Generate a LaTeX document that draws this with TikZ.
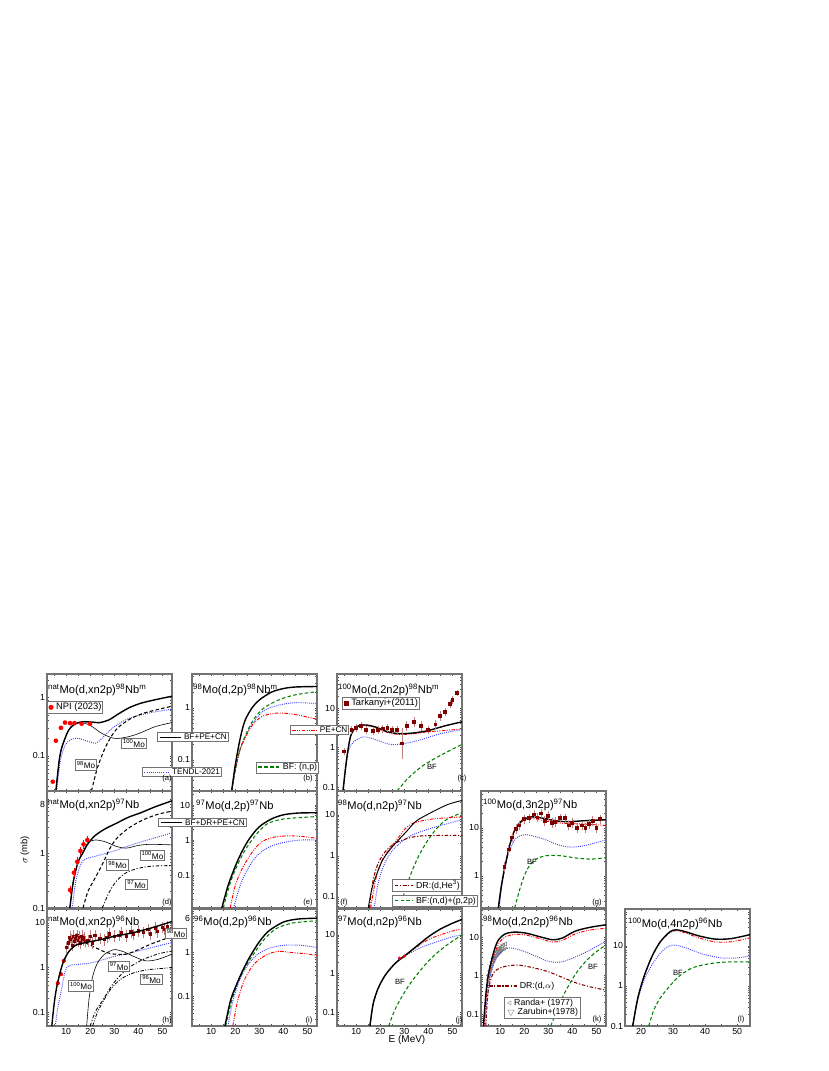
\documentclass[tikz,border=0pt]{standalone}
\usepackage{fontspec}
\setmainfont{Liberation Sans}
\usetikzlibrary{arrows.meta,positioning}
\newcommand{\up}[1]{\textsuperscript{#1}}
\newcommand{\fs}[1]{\fontsize{#1}{#1}\selectfont}
\tikzset{
  frame/.style={draw=black!55,line width=0.9pt},
  tickc/.style={black!70,line width=0.4pt},
  tot/.style={black,line width=1.2pt},
  pecn/.style={red,line width=0.8pt,dash pattern=on 3pt off 1.2pt on 0.8pt off 1.2pt on 0.8pt off 1.2pt},
  tendl/.style={blue!75!white,line width=0.8pt,dash pattern=on 0.8pt off 1pt},
  bfc/.style={green!50!black,line width=0.9pt,dash pattern=on 3pt off 2pt},
  drc/.style={red!50!black,line width=0.9pt,dash pattern=on 3pt off 1.5pt on 1pt off 1.5pt},
  isoline/.style={black,line width=0.5pt},
  isodash/.style={black,line width=0.9pt,dash pattern=on 3pt off 2pt},
  isodd/.style={black,line width=0.7pt,dash pattern=on 3pt off 1.5pt on 1pt off 1.5pt},
  isoddd/.style={black,line width=0.7pt,dash pattern=on 3pt off 1.2pt on 0.8pt off 1.2pt on 0.8pt off 1.2pt},
  lbox/.style={draw=black!55,line width=0.8pt,fill=white,inner sep=1.2pt,font=\fs{7}},
  ttl/.style={anchor=west,inner sep=0pt,font=\fs{9.5}},
  ylab/.style={anchor=east,inner sep=1.5pt,font=\fs{7.5}},
  xlab/.style={anchor=north,inner sep=2pt,font=\fs{7.5}},
  tag/.style={inner sep=0pt,font=\fs{6.5}},
  bflab/.style={inner sep=0pt,font=\fs{6.5}},
  npi/.style={fill=red},
  tark/.style={fill=red!50!black},
  errb/.style={red!50!black!50,line width=0.5pt},
  panel/.code n args={6}{%
    \pgfmathsetmacro\pxu{3.75/(#4-#3)}%
    \pgfmathsetmacro\pyu{3.51/(#6-#5)}%
    \pgfkeysalso{shift={(#1,#2)},x=\pxu cm,y=\pyu cm,shift={(-#3,-#5)}}}
}
% frame and ticks of one panel
\newcommand{\axes}[4]{%
  \begin{scope}
    \clip (#1,#3) rectangle (#2,#4);
    \foreach \t in {5,10,...,55}{
      \draw[tickc] (\t,#3) -- ++(0,2pt); \draw[tickc] (\t,#4) -- ++(0,-2pt);}
    \foreach \dd in {-2,-1,0,1}{\foreach \mm in {1,...,9}{
      \pgfmathsetmacro\yy{\dd+log10(\mm)}
      \draw[tickc] (#1,\yy) -- ++(2pt,0); \draw[tickc] (#2,\yy) -- ++(-2pt,0);}}
  \end{scope}
  \draw[frame] (#1,#3) rectangle (#2,#4);}
\begin{document}
\begin{tikzpicture}[x=0.03cm,y=-0.03cm]
\useasboundingbox[fill=white] (0,0) rectangle (828,1071);

% (a)
\begin{scope}[panel={47}{791}{2}{54}{-1.6}{0.4}]
\axes{2}{54}{-1.6}{0.4}
\node[ylab] (a-y0) at (2,0) {1};
\node[ylab] (a-y1) at (2,-1) {0.1};
\begin{scope}
\clip (2,-1.6) rectangle (54,0.4);
\draw[tendl] plot[smooth] coordinates {(6,-1.6) (7.5,-1.1) (9.5,-0.82) (12,-0.72) (15,-0.7) (19,-0.75) (22.5,-0.78) (26,-0.65) (30,-0.5) (36,-0.36) (44,-0.27) (54,-0.2)};
\draw[isodash] plot[smooth] coordinates {(20.5,-1.6) (23,-1.2) (26,-0.88) (29,-0.65) (32,-0.5) (37,-0.36) (43,-0.26) (54,-0.15)};
\draw[isoline] plot[smooth] coordinates {(5.7,-1.6) (7,-1.1) (8,-0.88) (9.5,-0.7) (11,-0.56) (13,-0.47) (16,-0.43) (20,-0.48) (25,-0.62) (30,-0.7) (35,-0.68) (40,-0.62) (47,-0.5) (54,-0.43)};
\draw[tot] plot[smooth] coordinates {(5.7,-1.6) (7,-1.1) (8,-0.88) (9.5,-0.7) (11,-0.56) (13,-0.47) (16,-0.42) (20,-0.42) (24,-0.43) (28,-0.38) (31,-0.3) (36,-0.18) (41,-0.1) (47,-0.04) (54,0.02)};
\foreach \e/\v in {4.4/-1.44,5.7/-0.74,7.8/-0.52,9.5/-0.43,11.6/-0.44,13.4/-0.44,16.4/-0.45,19.9/-0.45}
  \fill[npi] (\e,\v) circle (2pt);
\end{scope}
\end{scope}

% (b)
\begin{scope}[panel={192}{791}{2}{54}{-1.6}{0.65}]
\axes{2}{54}{-1.6}{0.65}
\node[ylab] (b-y0) at (2,0) {1};
\node[ylab] (b-y1) at (2,-1) {0.1};
\begin{scope}
\clip (2,-1.6) rectangle (54,0.65);
\draw[tendl] plot[smooth] coordinates {(18.5,-1.6) (20,-1.2) (22,-0.8) (25,-0.48) (28,-0.25) (32,-0.05) (38,0.05) (45,0.1) (54,0.08)};
\draw[bfc] plot[smooth] coordinates {(18.5,-1.6) (20,-1.2) (22,-0.8) (25,-0.45) (28,-0.2) (32,0.0) (38,0.15) (45,0.25) (54,0.31)};
\draw[pecn] plot[smooth] coordinates {(18.5,-1.6) (20,-1.2) (22,-0.8) (25,-0.5) (28,-0.28) (32,-0.15) (38,-0.1) (45,-0.13) (54,-0.22)};
\draw[tot] plot[smooth] coordinates {(18.5,-1.6) (20,-1.1) (22,-0.6) (24,-0.25) (27,0.0) (30,0.15) (35,0.3) (40,0.37) (45,0.4) (54,0.41)};
\end{scope}
\end{scope}

% (c)
\begin{scope}[panel={337}{791}{2}{54}{-1.1}{1.86}]
\axes{2}{54}{-1.1}{1.86}
\node[ylab] (c-y0) at (2,1) {10};
\node[ylab] (c-y1) at (2,0) {1};
\node[ylab] (c-y2) at (2,-1) {0.1};
\begin{scope}
\clip (2,-1.1) rectangle (54,1.86);
\draw[tendl] plot[smooth] coordinates {(4.5,-1.1) (5.5,-0.5) (7,-0.05) (9,0.15) (13,0.27) (17,0.22) (24,0.08) (30,0.1) (37,0.2) (45,0.35) (54,0.45)};
\draw[bfc] plot[smooth] coordinates {(27,-1.1) (32,-0.75) (38,-0.45) (45,-0.2) (54,0.08)};
\draw[pecn] plot[smooth] coordinates {(4.5,-1.1) (6,-0.3) (7.5,0.25) (9,0.45) (11,0.55) (14,0.56) (18,0.5) (23,0.38) (28,0.33) (34,0.35) (40,0.4) (47,0.43) (54,0.47)};
\draw[tot] plot[smooth] coordinates {(4.5,-1.1) (6,-0.3) (7.5,0.25) (9,0.45) (11,0.55) (14,0.57) (18,0.52) (23,0.4) (28,0.35) (34,0.37) (40,0.43) (47,0.55) (54,0.65)};
\foreach \e/\v/\s in {5/-0.1/0.1,8/0.45/0.1,10/0.5/0.1,12/0.55/0.1,14/0.45/0.1,17/0.42/0.1,19/0.45/0.1,21/0.48/0.1,23/0.5/0.1,25/0.45/0.1,27/0.45/0.1,29/0.1/0.4,31/0.55/0.12,34/0.65/0.12,37/0.55/0.12,40/0.45/0.1,43/0.58/0.12,45/0.8/0.12,47/0.9/0.1,49/1.1/0.1,50/1.2/0.1,52/1.38/0.08}{
  \draw[errb] (\e,{\v-\s}) -- (\e,{\v+\s});
  \fill[tark] (\e,\v) ++(-1.6pt,-1.6pt) rectangle ++(3.2pt,3.2pt);}
\end{scope}
\end{scope}

% (d)
\begin{scope}[panel={47}{908}{2}{54}{-1}{1.15}]
\axes{2}{54}{-1}{1.15}
\node[ylab] (d-y8) at (2,0.903) {8};
\node[ylab] (d-y0) at (2,0) {1};
\node[ylab] (d-y1) at (2,-1) {0.1};
\begin{scope}
\clip (2,-1) rectangle (54,1.15);
\draw[tendl] plot[smooth] coordinates {(12.5,-1) (14,-0.5) (16,-0.2) (18,-0.1) (22,-0.05) (30,0.05) (40,0.2) (54,0.38)};
\draw[isodd] plot[smooth] coordinates {(25,-1) (28,-0.7) (31,-0.5) (35,-0.35) (40,-0.27) (46,-0.23) (54,-0.22)};
\draw[isodash] plot[smooth] coordinates {(17,-1) (19,-0.7) (22,-0.45) (25,-0.2) (28,0.08) (31,0.28) (36,0.47) (42,0.62) (48,0.72) (54,0.78)};
\draw[isoline] plot[smooth] coordinates {(11.5,-1) (13,-0.5) (15,-0.15) (17,0.02) (19,0.2) (22,0.25) (26,0.22) (31,0.13) (35,0.1) (40,0.15) (45,0.17) (54,0.16)};
\draw[tot] plot[smooth] coordinates {(11.5,-1) (13,-0.5) (15,-0.15) (17,0.02) (19,0.18) (22,0.33) (26,0.45) (31,0.56) (36,0.67) (41,0.75) (47,0.86) (54,0.97)};
\foreach \e/\v in {11.6/-0.67,13.2/-0.35,14.6/-0.15,15.9/0.05,17.2/0.17,18.8/0.25}{
  \draw[red,line width=0.5pt] (\e,{\v-0.08}) -- (\e,{\v+0.08});
  \fill[npi] (\e,\v) circle (2pt);}
\end{scope}
\end{scope}

% (e)
\begin{scope}[panel={192}{908}{2}{54}{-1.94}{1.4}]
\axes{2}{54}{-1.94}{1.4}
\node[ylab] (e-y2) at (2,1) {10};
\node[ylab] (e-y0) at (2,0) {1};
\node[ylab] (e-y1) at (2,-1) {0.1};
\begin{scope}
\clip (2,-1.94) rectangle (54,1.4);
\draw[tendl] plot[smooth] coordinates {(19.3,-1.94) (22,-1.3) (25,-0.85) (29,-0.45) (34,-0.2) (40,-0.07) (47,0.0) (54,0.0)};
\draw[pecn] plot[smooth] coordinates {(17.9,-1.94) (20,-1.3) (23,-0.8) (27,-0.35) (31,-0.05) (36,0.08) (42,0.12) (48,0.1) (54,0.05)};
\draw[bfc] plot[smooth] coordinates {(15,-1.94) (18,-1.2) (21,-0.7) (24,-0.3) (28,0.1) (33,0.45) (40,0.6) (54,0.67)};
\draw[tot] plot[smooth] coordinates {(14.4,-1.94) (17,-1.3) (20,-0.75) (23,-0.3) (26,0.05) (30,0.38) (35,0.6) (40,0.72) (46,0.77) (54,0.78)};
\end{scope}
\end{scope}

% (f)
\begin{scope}[panel={337}{908}{2}{54}{-1.27}{1.58}]
\axes{2}{54}{-1.27}{1.58}
\node[ylab] (f-y2) at (2,1) {10};
\node[ylab] (f-y0) at (2,0) {1};
\node[ylab] (f-y1) at (2,-1) {0.1};
\begin{scope}
\clip (2,-1.27) rectangle (54,1.58);
\draw[tendl] plot[smooth] coordinates {(17.5,-1.27) (19,-0.7) (21,-0.3) (24,0.05) (28,0.3) (33,0.5) (40,0.65) (47,0.77) (54,0.88)};
\draw[bfc] plot[smooth] coordinates {(28,-1.27) (30,-0.9) (33,-0.4) (36,0.0) (40,0.4) (44,0.7) (48,0.9) (54,1.05)};
\draw[drc] plot[smooth] coordinates {(15.5,-1.27) (17,-0.6) (19,-0.2) (22,0.1) (26,0.3) (31,0.42) (36,0.48) (45,0.5) (54,0.5)};
\draw[pecn] plot[smooth] coordinates {(16,-1.27) (18,-0.6) (20,-0.2) (23,0.1) (27,0.4) (31,0.7) (35,0.82) (42,0.9) (54,0.95)};
\draw[black,line width=0.8pt] plot[smooth] coordinates {(15,-1.27) (16.5,-0.8) (18.5,-0.45) (21,-0.1) (24,0.15) (27,0.35) (31,0.6) (35,0.85) (41,1.05) (48,1.25) (54,1.35)};
\end{scope}
\end{scope}

% (g)
\begin{scope}[panel={481}{908}{2}{54}{-0.67}{1.77}]
\axes{2}{54}{-0.67}{1.77}
\node[ylab] (g-y2) at (2,1) {10};
\node[ylab] (g-y0) at (2,0) {1};
\begin{scope}
\clip (2,-0.67) rectangle (54,1.77);
\draw[tendl] plot[smooth] coordinates {(9.5,-0.67) (11,-0.1) (13,0.4) (16,0.75) (19,0.85) (22,0.85) (28,0.77) (34,0.65) (39,0.6) (45,0.63) (54,0.75)};
\draw[bfc] plot[smooth] coordinates {(16,-0.67) (18,-0.3) (20,0.0) (22,0.2) (25,0.35) (29,0.42) (35,0.42) (42,0.37) (48,0.35) (54,0.38)};
\draw[pecn] plot[smooth] coordinates {(9.2,-0.67) (10.5,-0.2) (12,0.2) (14,0.65) (16,0.95) (19,1.13) (23,1.2) (28,1.15) (35,1.1) (45,1.08) (54,1.05)};
\draw[tot] plot[smooth] coordinates {(9.2,-0.67) (10.5,-0.2) (12,0.2) (14,0.65) (16,0.95) (19,1.15) (23,1.23) (28,1.2) (33,1.15) (38,1.13) (45,1.15) (54,1.17)};
\foreach \e/\v in {11.8/0.18,13.5/0.55,15/0.8,16.5/0.98,18/1.05,20/1.18,22/1.2,24/1.28,25.5/1.22,27/1.3,28.5/1.15,30/1.25,31.5/1.1,33/1.12,35/1.2,37/1.2,38.5/1.05,40/1.1,42/1.0,44/1.05,45.5/1.0,47/1.08,48.5/1.15,50/1.0,51.5/1.18}{
  \draw[errb] (\e,{\v-0.1}) -- (\e,{\v+0.1});
  \fill[tark] (\e,\v) ++(-1.6pt,-1.6pt) rectangle ++(3.2pt,3.2pt);}
\end{scope}
\end{scope}

% (h)
\begin{scope}[panel={47}{1026}{2}{54}{-1.31}{1.31}]
\axes{2}{54}{-1.31}{1.31}
\node[ylab] (h-y2) at (2,1) {10};
\node[ylab] (h-y0) at (2,0) {1};
\node[ylab] (h-y1) at (2,-1) {0.1};
\foreach \t in {10,20,...,50} \node[xlab] (h-x\t) at (\t,-1.31) {\t};
\begin{scope}
\clip (2,-1.31) rectangle (54,1.31);
\draw[tendl] plot[smooth] coordinates {(5.4,-1.31) (6.5,-0.9) (8,-0.5) (9.5,-0.1) (11,0.04) (15,0.07) (20,0.1) (25,0.17) (30,0.25) (37,0.33) (45,0.44) (54,0.56)};
\draw[isoddd] plot[smooth] coordinates {(21,-1.31) (23,-1.0) (26,-0.7) (29,-0.45) (33,-0.25) (38,-0.12) (44,-0.05) (50,-0.02) (54,0.0)};
\draw[isodd] plot[smooth] coordinates {(20,-1.31) (22,-1.0) (25,-0.75) (29,-0.4) (33,-0.15) (37,0.03) (42,0.18) (48,0.3) (54,0.37)};
\draw[isoline] plot[smooth] coordinates {(18.5,-1.31) (19.5,-0.7) (21,-0.2) (23,0.1) (26,0.3) (30,0.4) (34,0.35) (38,0.25) (43,0.15) (48,0.18) (54,0.3)};
\draw[isodash] plot[smooth] coordinates {(18,0.55) (22,0.45) (26,0.35) (30,0.3) (35,0.3) (40,0.4) (45,0.52) (50,0.62) (54,0.7)};
\foreach \e/\v in {10/0.45,11/0.55,11.5/0.68,12/0.62,12.5/0.5,13/0.7,13.5/0.58,14/0.65,14.5/0.72,15/0.6,15.5/0.68,16/0.55,16.5/0.7,17/0.62,17.5/0.66,18/0.58,19/0.6,20/0.7,21/0.55,22/0.72,24/0.65,26/0.62,27/0.68,28/0.75,30/0.7,32/0.72,33/0.78,35/0.7,37/0.8,38/0.74,40/0.82,42/0.78,44/0.85,45/0.75,47/0.88,48/0.8,50/0.9,51/0.85,52/0.92}{
  \draw[errb] (\e,{\v-0.13}) -- (\e,{\v+0.13});
  \fill[tark] (\e,\v) ++(-1.4pt,-1.4pt) rectangle ++(2.8pt,2.8pt);}
\foreach \e/\v in {6.5/-0.35,7.8/-0.15,9/0.15}
  \fill[npi] (\e,\v) circle (1.8pt);
\draw[tot] plot[smooth] coordinates {(4,-1.31) (5,-0.8) (6,-0.45) (7.5,-0.1) (9,0.15) (11,0.35) (14,0.5) (18,0.56) (24,0.62) (30,0.7) (37,0.77) (45,0.88) (54,1.03)};
\end{scope}
\end{scope}

% (i)
\begin{scope}[panel={192}{1026}{2}{54}{-1.68}{1.0}]
\axes{2}{54}{-1.68}{1.0}
\node[ylab] (i-y6) at (2,0.778) {6};
\node[ylab] (i-y0) at (2,0) {1};
\node[ylab] (i-y1) at (2,-1) {0.1};
\foreach \t in {10,20,...,50} \node[xlab] (i-x\t) at (\t,-1.68) {\t};
\begin{scope}
\clip (2,-1.68) rectangle (54,1.0);
\draw[tendl] plot[smooth] coordinates {(17,-1.68) (19,-1.1) (22,-0.6) (25,-0.3) (29,-0.05) (34,0.1) (40,0.17) (47,0.17) (54,0.12)};
\draw[pecn] plot[smooth] coordinates {(19,-1.68) (21,-1.1) (24,-0.6) (28,-0.25) (33,-0.05) (38,0.03) (44,0.0) (50,-0.03) (54,-0.07)};
\draw[bfc] plot[smooth] coordinates {(16,-1.68) (18.5,-1.1) (21,-0.7) (24,-0.35) (28,0.0) (32,0.3) (37,0.55) (44,0.68) (54,0.73)};
\draw[tot] plot[smooth] coordinates {(15.7,-1.68) (18,-1.1) (20,-0.8) (23,-0.42) (26,-0.1) (30,0.25) (34,0.5) (40,0.7) (46,0.77) (54,0.79)};
\end{scope}
\end{scope}

% (j)
\begin{scope}[panel={337}{1026}{2}{54}{-1.36}{1.67}]
\axes{2}{54}{-1.36}{1.67}
\node[ylab] (j-y2) at (2,1) {10};
\node[ylab] (j-y0) at (2,0) {1};
\node[ylab] (j-y1) at (2,-1) {0.1};
\foreach \t in {10,20,...,50} \node[xlab] (j-x\t) at (\t,-1.36) {\t};
\begin{scope}
\clip (2,-1.36) rectangle (54,1.67);
\draw[tendl] plot[smooth] coordinates {(15.7,-1.36) (17,-0.8) (19,-0.4) (22,-0.05) (26,0.25) (28,0.38) (33,0.55) (38,0.7) (45,0.85) (50,0.95) (54,1.0)};
\draw[bfc] plot[smooth] coordinates {(23.5,-1.36) (26,-0.95) (29,-0.6) (32,-0.3) (35,-0.05) (39,0.25) (43,0.5) (48,0.75) (54,1.0)};
\draw[pecn] plot[smooth] coordinates {(15.7,-1.36) (17,-0.8) (19,-0.4) (22,-0.05) (26,0.25) (30,0.45) (35,0.68) (40,0.88) (45,1.0) (50,1.1) (54,1.15)};
\draw[tot] plot[smooth] coordinates {(15.7,-1.36) (17,-0.8) (19,-0.4) (22,-0.05) (26,0.25) (30,0.45) (35,0.7) (40,0.95) (45,1.15) (50,1.3) (54,1.4)};
\foreach \e/\v in {28/0.4,30/0.45} \fill[npi] (\e,\v) circle (1.5pt);
\end{scope}
\end{scope}

% (k)
\begin{scope}[panel={481}{1026}{2}{54}{-1.31}{1.73}]
\axes{2}{54}{-1.31}{1.73}
\node[ylab] (k-y2) at (2,1) {10};
\node[ylab] (k-y0) at (2,0) {1};
\node[ylab] (k-y1) at (2,-1) {0.1};
\foreach \t in {10,20,...,50} \node[xlab] (k-x\t) at (\t,-1.31) {\t};
\begin{scope}
\clip (2,-1.31) rectangle (54,1.73);
\foreach \e/\v in {5/0.0,5.5/0.12,6/0.25,6.5/0.35,7/0.45,7.5/0.5,8/0.58,8.5/0.62,9/0.66,9.5/0.7,10/0.73,10.5/0.76,11/0.8,12/0.82}{
  \draw[black!55,line width=0.4pt] (\e,\v) ++(-1.6pt,0) -- ++(3pt,1.6pt) -- ++(0,-3.2pt) -- cycle;
  \draw[black!55,line width=0.4pt] (\e,{\v-0.12}) ++(-1.6pt,1.2pt) -- ++(3.2pt,0) -- ++(-1.6pt,-2.8pt) -- cycle;}
\draw[tendl] plot[smooth] coordinates {(3.5,-1.31) (4.5,-0.6) (6,0.05) (8,0.45) (11,0.65) (14,0.72) (19,0.65) (25,0.5) (30,0.37) (35,0.35) (40,0.45) (47,0.65) (54,0.9)};
\draw[bfc] plot[smooth] coordinates {(31,-1.31) (33,-1.0) (36,-0.55) (39,-0.2) (42,0.1) (46,0.4) (50,0.62) (54,0.8)};
\draw[drc] plot[smooth] coordinates {(4,-1.31) (5,-0.4) (7,0.05) (10,0.2) (14,0.26) (18,0.27) (24,0.2) (30,0.1) (36,-0.05) (42,-0.2) (48,-0.3) (54,-0.38)};
\draw[pecn] plot[smooth] coordinates {(3.3,-1.31) (4.3,-0.5) (5.3,0.0) (7.3,0.5) (9.5,0.85) (12,1.0) (16,1.07) (21,1.05) (27,0.95) (32,0.87) (36,0.92) (41,1.08) (47,1.18) (54,1.23)};
\draw[tot] plot[smooth] coordinates {(3,-1.31) (4,-0.5) (5,0.0) (7,0.55) (9,0.9) (12,1.08) (16,1.13) (21,1.1) (27,1.0) (32,0.93) (36,0.98) (41,1.15) (47,1.25) (54,1.32)};
\end{scope}
\end{scope}

% (l)
\begin{scope}[panel={625}{1026}{15}{54}{-1}{1.92}]
\axes{15}{54}{-1}{1.92}
\node[ylab] (l-y2) at (15,1) {10};
\node[ylab] (l-y0) at (15,0) {1};
\node[ylab] (l-y1) at (15,-1) {0.1};
\foreach \t in {20,30,...,50} \node[xlab] (l-x\t) at (\t,-1) {\t};
\begin{scope}
\clip (15,-1) rectangle (54,1.92);
\draw[tendl] plot[smooth] coordinates {(17.4,-1) (19,-0.35) (21,0.15) (24,0.6) (27,0.9) (30,1.02) (34,0.95) (39,0.8) (45,0.7) (50,0.7) (54,0.75)};
\draw[bfc] plot[smooth] coordinates {(22.4,-1) (24,-0.6) (26,-0.3) (29,0.0) (32,0.25) (36,0.45) (41,0.55) (47,0.6) (54,0.6)};
\draw[pecn] plot[smooth] coordinates {(17.4,-1) (19,-0.3) (21,0.25) (23.5,0.75) (26,1.1) (29,1.33) (31,1.38) (34,1.32) (38,1.2) (43,1.1) (48,1.1) (54,1.2)};
\draw[tot] plot[smooth] coordinates {(17.4,-1) (19,-0.3) (21,0.25) (23.5,0.75) (26,1.1) (29,1.35) (31,1.4) (34,1.35) (38,1.25) (43,1.17) (48,1.18) (54,1.28)};
\end{scope}
\end{scope}

% titles
\node[ttl] (t-a) at (48,690) {\up{nat}Mo(d,xn2p)\up{98}Nb\up{m}};
\node[ttl] (t-b) at (193,690) {\up{98}Mo(d,2p)\up{98}Nb\up{m}};
\node[ttl] (t-c) at (338,690) {\up{100}Mo(d,2n2p)\up{98}Nb\up{m}};
\node[ttl] (t-d) at (48,805) {\up{nat}Mo(d,xn2p)\up{97}Nb};
\node[ttl] (t-e) at (196,806) {\up{97}Mo(d,2p)\up{97}Nb};
\node[ttl] (t-f) at (338,806) {\up{98}Mo(d,n2p)\up{97}Nb};
\node[ttl] (t-g) at (483,805) {\up{100}Mo(d,3n2p)\up{97}Nb};
\node[ttl] (t-h) at (48,922) {\up{nat}Mo(d,xn2p)\up{96}Nb};
\node[ttl] (t-i) at (194,922) {\up{96}Mo(d,2p)\up{96}Nb};
\node[ttl] (t-j) at (338,922) {\up{97}Mo(d,n2p)\up{96}Nb};
\node[ttl] (t-k) at (483,922) {\up{98}Mo(d,2n2p)\up{96}Nb};
\node[ttl] (t-l) at (628,924) {\up{100}Mo(d,4n2p)\up{96}Nb};

% legends and labels
\node[lbox,font=\fs{8}] (lg-npi) at (75,707.5) {\tikz\fill[npi] (0,0) circle (2.2pt);\ NPI (2023)};
\node[lbox] (lg-tot) at (193,737) {\tikz[baseline=-0.6ex]\draw[black,line width=0.8pt] (0,0) -- (0.65cm,0);\ BF+PE+CN};
\node[lbox] (lg-tendl) at (182,772) {\tikz[baseline=-0.6ex]\draw[tendl] (0,0) -- (0.75cm,0);\ TENDL-2021};
\node[lbox] (lb-a100) at (134,743.5) {\up{100}Mo};
\node[lbox] (lb-a98) at (86,765) {\up{98}Mo};
\node[lbox] (lg-pecn) at (319.5,730) {\tikz[baseline=-0.6ex]\draw[pecn] (0,0) -- (0.75cm,0);\ PE+CN};
\node[lbox,font=\fs{7.5}] (lg-bf) at (287.5,767.5) {\tikz[baseline=-0.6ex]\draw[bfc] (0,0) -- (0.65cm,0);\ BF: (n,p)};
\node[lbox,font=\fs{8}] (lg-tark) at (381,703.5) {\tikz\fill[tark] (0,0) rectangle (4pt,4pt);\ Tarkanyi+(2011)};
\node[bflab] (bf-c) at (432,767) {BF};
\node[lbox] (lg-dr) at (202.5,822.5) {\tikz[baseline=-0.6ex]\draw[black,line width=0.8pt] (0,0) -- (0.65cm,0);\ BF+DR+PE+CN};
\node[lbox] (lb-d100) at (152.5,855.5) {\up{100}Mo};
\node[lbox] (lb-d98) at (117.5,865) {\up{98}Mo};
\node[lbox] (lb-d97) at (136.5,884.5) {\up{97}Mo};
\node[lbox,font=\fs{7.5}] (lg-drhe) at (427,885.5) {\tikz[baseline=-0.6ex]\draw[drc] (0,0) -- (0.55cm,0);\ DR:(d,He\up{3})};
\node[lbox,font=\fs{7.5}] (lg-bfnd) at (435,901) {\tikz[baseline=-0.6ex]\draw[bfc] (0,0) -- (0.55cm,0);\ BF:(n,d)+(p,2p)};
\node[bflab] (bf-g) at (532,862) {BF};
\node[lbox] (lb-h98) at (176,933.5) {\up{98}Mo};
\node[lbox] (lb-h97) at (119,966.5) {\up{97}Mo};
\node[lbox] (lb-h96) at (151.5,979.5) {\up{96}Mo};
\node[lbox] (lb-h100) at (81,986) {\up{100}Mo};
\node[bflab] (bf-j) at (400,982) {BF};
\node[bflab] (bf-k) at (593,967) {BF};
\coordinate (dr-k0) at (489,986);
\node[inner sep=1pt,font=\fs{7.5}] (lb-kdr) at (537,986) {DR:(d,$\alpha$)};
\draw[drc] (dr-k0) -- (lb-kdr.west);
\node[lbox,font=\fs{7.5},align=left,inner sep=2pt] (lg-k) at (542.5,1008)
  {\textcolor{black!60}{$\triangleleft$} Randa+ (1977)\\ \textcolor{black!60}{$\bigtriangledown$} Zarubin+(1978)};
\node[bflab] (bf-l) at (678,973) {BF};
% panel tags
\foreach \n/\x/\y in {a/167/779,b/308/779,c/462/779,d/167/903,e/308/903,f/344/903,g/597/903,h/167/1021,i/309/1021,j/459/1021,k/597/1020,l/741/1020}
  \node[tag] (tag-\n) at (\x,\y) {(\n)};
\node[rotate=90,font=\fs{8}] (ylabel) at (25,850) {$\sigma$ (mb)};
\node[font=\fs{8.5}] (xlabel) at (407,1040) {E (MeV)};
\end{tikzpicture}
\end{document}
